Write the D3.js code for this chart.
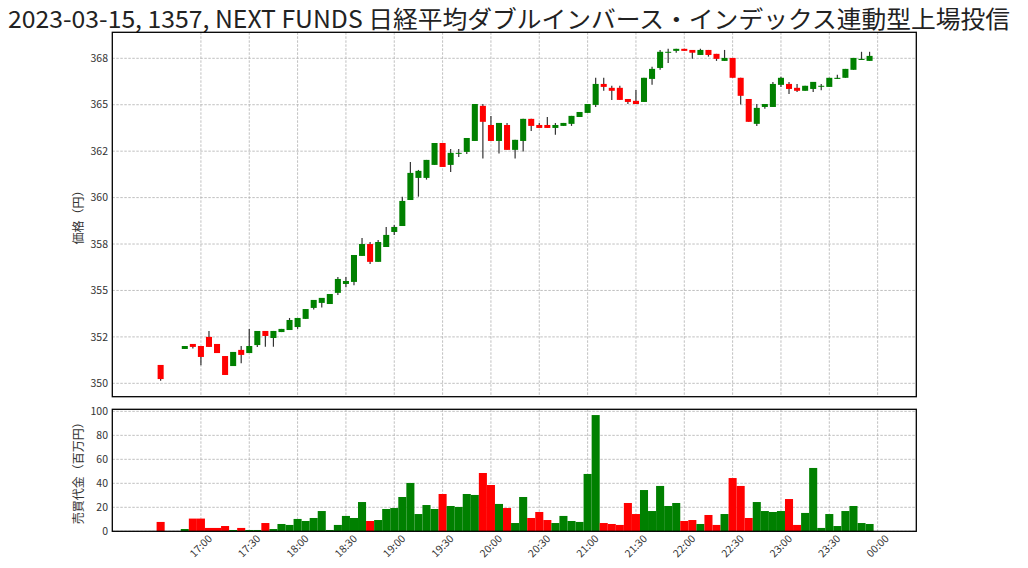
<!DOCTYPE html>
<html><head><meta charset="utf-8">
<script src="https://cdn.jsdelivr.net/npm/d3@7"></script>
<style>body{margin:0;background:#fff}svg{display:block}</style>
</head><body><svg id="c" width="1028" height="568"></svg>
<script>
const titleText = "2023-03-15, 1357, NEXT FUNDS 日経平均ダブルインバース・インデックス連動型上場投信";
const times = ["16:35","16:50","16:55","17:00","17:05","17:10","17:15","17:20","17:25","17:30","17:35","17:40","17:45","17:50","17:55","18:00","18:05","18:10","18:15","18:20","18:25","18:30","18:35","18:40","18:45","18:50","18:55","19:00","19:05","19:10","19:15","19:20","19:25","19:30","19:35","19:40","19:45","19:50","19:55","20:00","20:05","20:10","20:15","20:20","20:25","20:30","20:35","20:40","20:45","20:50","20:55","21:00","21:05","21:10","21:15","21:20","21:25","21:30","21:35","21:40","21:45","21:50","21:55","22:00","22:05","22:10","22:15","22:20","22:25","22:30","22:35","22:40","22:45","22:50","22:55","23:00","23:05","23:10","23:15","23:20","23:25","23:30","23:35","23:40","23:45","23:50","23:55"];
const openP = [350.99,351.85,352.12,352.01,352.50,352.12,351.47,350.93,351.80,351.63,352.06,352.82,352.44,352.76,352.87,353.03,353.47,354.06,354.33,354.27,354.87,355.35,355.46,356.86,357.50,356.54,357.34,358.15,358.47,359.87,361.06,361.06,361.76,362.94,361.76,362.37,362.46,363.05,364.94,363.91,363.05,363.91,362.57,363.05,364.24,363.91,363.91,363.75,363.86,363.97,364.34,364.56,364.99,366.12,365.91,365.91,365.31,365.21,365.15,366.39,366.98,367.80,367.90,368.01,367.95,367.68,367.95,367.74,367.36,367.52,366.45,365.31,363.97,364.88,364.88,366.07,366.12,365.91,365.75,365.85,365.99,365.96,366.39,366.45,366.88,367.41,367.36];
const highP = [350.99,352.01,352.12,352.01,352.82,352.12,351.47,351.69,352.01,352.93,352.82,352.82,352.82,352.93,353.52,353.52,354.00,354.49,354.60,354.81,355.73,355.73,356.91,357.83,357.61,357.72,358.42,358.53,360.04,361.92,361.49,362.03,362.94,362.94,362.62,362.62,363.21,365.04,365.04,364.40,364.02,364.02,363.11,364.24,364.24,364.02,364.34,364.02,364.02,364.40,364.61,365.04,366.45,366.45,366.02,366.02,365.31,365.80,366.45,367.04,367.95,368.01,368.01,368.01,367.95,368.01,367.95,367.74,367.95,367.52,366.45,365.31,365.04,365.04,366.23,366.50,366.23,366.12,366.02,366.23,366.12,366.45,366.61,366.93,367.52,367.85,367.85];
const lowP = [350.14,351.85,351.87,350.97,351.96,351.63,350.45,350.93,351.08,351.63,351.96,351.97,351.97,352.76,352.87,352.93,353.47,353.97,354.08,354.27,354.76,355.17,355.28,356.86,356.43,356.54,357.34,357.99,358.47,359.87,360.05,360.97,361.76,361.65,361.38,362.19,362.35,363.05,362.10,363.05,362.37,362.57,362.10,362.48,363.59,363.75,363.75,363.38,363.86,363.86,364.34,364.56,364.88,365.75,365.26,365.26,365.04,365.04,365.15,366.07,366.88,367.25,367.80,367.90,367.47,367.68,367.59,367.36,367.36,366.45,365.01,364.08,363.86,364.78,364.88,365.96,365.58,365.69,365.75,365.69,365.78,365.96,366.39,366.45,366.88,367.41,367.36];
const closeP = [350.23,352.01,351.96,351.42,351.96,351.63,350.45,351.69,351.53,352.01,352.82,352.55,352.82,352.93,353.41,353.52,354.00,354.49,354.60,354.81,355.62,355.51,356.91,357.50,356.54,357.61,357.99,358.42,359.82,361.33,361.44,362.03,362.94,361.65,362.41,362.41,363.21,365.04,364.08,363.05,364.02,362.57,363.11,364.24,363.86,363.75,363.75,363.91,364.02,364.40,364.61,365.04,366.12,365.96,365.75,365.26,365.15,365.04,366.45,366.93,367.85,367.85,368.01,367.90,367.80,367.95,367.68,367.47,367.52,366.45,365.48,364.08,364.83,365.04,366.12,366.45,365.85,365.75,366.02,366.23,366.02,366.45,366.45,366.93,367.52,367.47,367.63];
const volume = [7.8,1.9,10.6,10.6,2.8,2.8,4.4,1.1,2.8,1.1,1.1,6.9,1.9,6.1,5.3,10.3,8.6,11.1,16.9,1.1,5.3,12.8,11.1,24.4,8.6,9.4,18.6,19.4,28.6,40.3,14.4,21.9,18.6,31.1,21.1,20.3,31.1,30.3,48.6,38.6,22.8,19.4,6.9,28.6,11.1,16.1,9.4,6.9,12.8,8.6,7.8,47.8,96.9,6.9,6.1,5.3,23.6,14.4,34.4,16.9,37.8,21.1,23.6,8.6,9.4,6.1,13.6,5.3,14.4,44.4,37.8,11.1,24.4,16.9,16.1,16.9,26.9,5.3,15.3,52.8,2.8,14.4,4.4,16.9,21.1,6.9,6.1];
const priceTicks = [350,352.5,355,357.5,360,362.5,365,367.5];
const priceTickLabels = ["350","352","355","358","360","362","365","368"];
const volTicks = [0,20,40,60,80,100];
const timeTicks = ["17:00","17:30","18:00","18:30","19:00","19:30","20:00","20:30","21:00","21:30","22:00","22:30","23:00","23:30","00:00"];
const priceLabel = "価格（円）";
const volLabel = "売買代金（百万円）";

const FONT = "'Noto Sans CJK JP','Noto Sans',sans-serif";
function toDate(s){const [h,m]=s.split(":").map(Number);return new Date(2023,2,h<12?16:15,h,m);}
const data = times.map((t,i)=>({t:toDate(t),o:openP[i],h:highP[i],l:lowP[i],c:closeP[i],v:volume[i]}));

const L=112.3,R=916.3, pT=32.3,pB=396.7, vT=409.3,vB=531.3;
const x = d3.scaleTime().domain([new Date(2023,2,15,16,5.6), new Date(2023,2,16,0,24.6)]).range([L,R]);
const yP = d3.scaleLinear().domain([349.28,368.9]).range([pB,pT]);
const yV = d3.scaleLinear().domain([0,101.7]).range([vB,vT]);
const svg = d3.select("#c");
const step = x(toDate("17:05"))-x(toDate("17:00"));
const tickDates = timeTicks.map(toDate);
const grid = "#b0b0b0";

// title
svg.append("text").attr("x",8).attr("y",28).attr("font-family",FONT).attr("font-size",24)
  .attr("fill","#222").attr("textLength",1002).attr("lengthAdjust","spacingAndGlyphs").text(titleText);

function gridPanel(top,bottom,yScale,ticks){
  const g=svg.append("g");
  g.selectAll("line.v").data(tickDates).join("line").attr("x1",d=>x(d)).attr("x2",d=>x(d))
    .attr("y1",top).attr("y2",bottom).attr("stroke",grid).attr("stroke-width",0.8).attr("stroke-dasharray","2.5,1.5");
  g.selectAll("line.h").data(ticks).join("line").attr("x1",L).attr("x2",R)
    .attr("y1",d=>yScale(d)).attr("y2",d=>yScale(d)).attr("stroke",grid).attr("stroke-width",0.8).attr("stroke-dasharray","2.5,1.5");
}
gridPanel(pT,pB,yP,priceTicks);
gridPanel(vT,vB,yV,volTicks);

// candles
const cg=svg.append("g");
cg.selectAll("line").data(data).join("line").attr("x1",d=>x(d.t)).attr("x2",d=>x(d.t))
  .attr("y1",d=>yP(d.h)).attr("y2",d=>yP(d.l)).attr("stroke","#333").attr("stroke-width",1.2);
cg.selectAll("rect").data(data).join("rect").attr("x",d=>x(d.t)-step*0.375).attr("width",step*0.75)
  .attr("y",d=>yP(Math.max(d.o,d.c))).attr("height",d=>Math.max(1,Math.abs(yP(d.o)-yP(d.c))))
  .attr("fill",d=>d.c>=d.o?"#008000":"#ff0000");

// volume
svg.append("g").selectAll("rect").data(data).join("rect").attr("x",d=>x(d.t)-step/2).attr("width",step)
  .attr("y",d=>yV(d.v)).attr("height",d=>vB-yV(d.v)).attr("fill",d=>d.c>=d.o?"#008000":"#ff0000");

// frames
[[pT,pB],[vT,vB]].forEach(([t,b])=>svg.append("rect").attr("x",L).attr("y",t).attr("width",R-L).attr("height",b-t)
  .attr("fill","none").attr("stroke","#000").attr("stroke-width",1.3));

// y axes labels
svg.append("g").selectAll("text").data(priceTicks).join("text").attr("x",108).attr("y",d=>yP(d))
  .attr("dy","0.35em").attr("text-anchor","end").attr("font-family",FONT).attr("font-size",10.5).attr("fill","#333")
  .text((d,i)=>priceTickLabels[i]);
svg.append("g").selectAll("text").data(volTicks).join("text").attr("x",108).attr("y",d=>yV(d))
  .attr("dy","0.35em").attr("text-anchor","end").attr("font-family",FONT).attr("font-size",10.5).attr("fill","#333")
  .text(d=>d);
// x labels
svg.append("g").selectAll("text").data(tickDates).join("text")
  .attr("transform",d=>`translate(${x(d)},546) rotate(-45)`).attr("text-anchor","middle").attr("dy","0.35em")
  .attr("font-family",FONT).attr("font-size",10.5).attr("fill","#333").text(d3.timeFormat("%H:%M"));
// axis titles
svg.append("text").attr("transform",`translate(79,${(pT+pB)/2}) rotate(-90)`).attr("text-anchor","middle").attr("dy","0.35em")
  .attr("font-family",FONT).attr("font-size",12).attr("fill","#333").text(priceLabel);
svg.append("text").attr("transform",`translate(79,${(vT+vB)/2}) rotate(-90)`).attr("text-anchor","middle").attr("dy","0.35em")
  .attr("font-family",FONT).attr("font-size",12).attr("fill","#333").text(volLabel);
</script></body></html>
